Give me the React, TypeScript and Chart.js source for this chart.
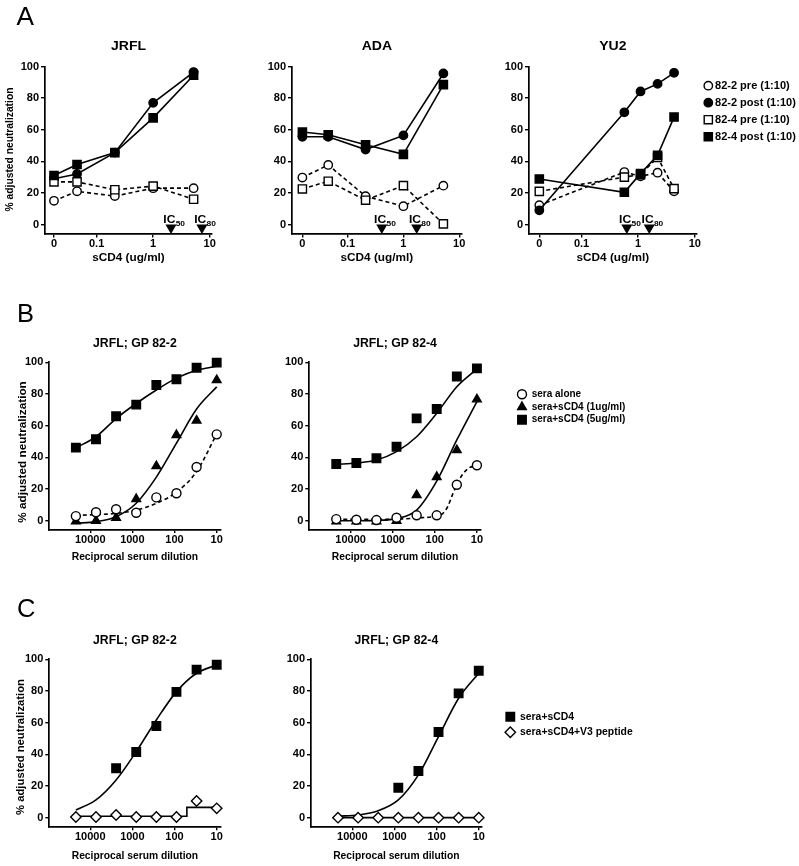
import React, { useEffect, useRef } from 'react';
import { Chart, registerables } from 'chart.js';

Chart.register(...registerables);

const FONT = '"Liberation Sans", Arial, Helvetica, sans-serif';
const W = 799;
const H = 866;

// ---------------- shared axis ticks / text ----------------
const Y_TICKS = [0, 20, 40, 60, 80, 100];
const Y_TICK_LABELS = ['0', '20', '40', '60', '80', '100'];
const A_X_TICK_VALUES = [0, 0.1, 1, 10];
const A_X_TICK_LABELS = ['0', '0.1', '1', '10'];
const DIL_X_TICKS = [10000, 1000, 100, 10];
const DIL_X_TICK_LABELS = ['10000', '1000', '100', '10'];
const Y_TITLE = '% adjusted neutralization';
const A_X_TITLE = 'sCD4 (ug/ml)';
const DIL_X_TITLE = 'Reciprocal serum dilution';

// ---------------- Panel A ----------------
const A_SERIES = ['82-2 pre (1:10)', '82-2 post (1:10)', '82-4 pre (1:10)', '82-4 post (1:10)'];
const SCD4_DOSES = [0, 0.045, 0.21, 1, 5.2];
const YU2_DOSES = [0, 0.57, 1.1, 2.2, 4.3];

const JRFL_PRE_82_2 = [15, 21, 18, 23, 23];
const JRFL_POST_82_2 = [29, 32, 45.5, 77, 96.5];
const JRFL_PRE_82_4 = [27, 27, 22, 24.3, 16];
const JRFL_POST_82_4 = [31, 38, 45.5, 67.5, 94.5];
const JRFL_IC = [2.07, 7.3];

const ADA_PRE_82_2 = [29.7, 37.7, 17.9, 11.6, 24.6];
const ADA_POST_82_2 = [55.5, 55.5, 47.4, 56.4, 95.6];
const ADA_PRE_82_4 = [22.5, 27.4, 15.4, 24.6, 0.4];
const ADA_POST_82_4 = [58.5, 56.8, 50.5, 44.4, 88.5];
const ADA_IC = [0.41, 1.73];

const YU2_PRE_82_2 = [12.2, 33.2, 30.5, 32.8, 21];
const YU2_POST_82_2 = [9, 71, 84.2, 89, 96];
const YU2_PRE_82_4 = [21, 30, 31.6, 42.5, 22.7];
const YU2_POST_82_4 = [28.8, 20.4, 32.2, 43.8, 68];
const YU2_IC = [0.63, 1.57];

const IC_SUBS = ['50', '80'];

// ---------------- Panel B ----------------
const B_SERIES = ['sera alone', 'sera+sCD4 (1ug/ml)', 'sera+sCD4 (5ug/ml)'];
const DILUTIONS = [21870, 7290, 2430, 810, 270, 90, 30, 10];

const B_822_ALONE = [2.9, 5.3, 7.2, 5, 14.7, 17.3, 33.9, 54.5];
const B_822_CD4_1 = [-0.4, 0, 1.9, 13.7, 34.5, 54.1, 63.2, 88.8];
const B_822_CD4_5 = [46.1, 51.4, 65.9, 73.3, 85.7, 89.3, 96.6, 99.8];
const B_822_FIT_ALONE = [3.4, 3.8, 4.6, 6.7, 11, 18, 31, 54.7];
const B_822_FIT_CD4_1 = [-1.7, -0.6, 2.5, 11, 27.5, 49, 70.5, 84.5];
const B_822_FIT_CD4_5 = [46, 53, 64.5, 74, 82.5, 90, 95, 97.5];

const B_824_ALONE = [1, 0.6, 0.4, 1.9, 3.4, 3.4, 22.7, 35];
const B_824_CD4_1 = [-0.4, -0.4, -0.4, 0, 16.2, 27.6, 44.6, 76.6];
const B_824_CD4_5 = [35.8, 36.4, 39.4, 46.7, 64.6, 70.5, 91, 96.2];
const B_824_FIT_ALONE_X = [21870, 7290, 2430, 810, 270, 90, 65, 49, 38.6, 30, 21.5, 15, 10];
const B_824_FIT_ALONE = [0.8, 0.8, 0.8, 1, 1.7, 3, 4.5, 9, 16, 22.7, 29.5, 33.5, 34.7];
const B_824_FIT_CD4_1 = [0, 0, 0.2, 1.3, 6.7, 25, 51, 75.2];
const B_824_FIT_CD4_5 = [35.6, 36.4, 38.3, 43.6, 53, 67.8, 84.6, 95.8];

// ---------------- Panel C ----------------
const C_SERIES = ['sera+sCD4', 'sera+sCD4+V3 peptide'];
const C_822_CD4 = [null, null, 31.2, 41.5, 57.9, 79.4, 93.5, 96.6];
const C_822_V3 = [0.4, 0.4, 1.7, 0.4, 0.4, 0.4, 10.5, 5.9];
const C_822_FIT_CD4 = [4.8, 11.2, 23.8, 41.7, 61.7, 79.6, 91.2, 96.4];
const C_822_FIT_V3_X = [21870, 7290, 2430, 810, 270, 90, 53, 51, 30, 10];
const C_822_FIT_V3 = [0.9, 0.9, 0.9, 0.9, 0.9, 0.9, 0.9, 6.5, 6.5, 6.5];

const C_824_CD4 = [null, null, null, 18.9, 29.5, 54.1, 78.5, 92.8];
const C_824_V3 = [0, 0, 0, 0, 0, 0, 0, 0];
const C_824_FIT_CD4 = [1, 1.7, 4.4, 11.2, 27, 51.2, 75.4, 91.2];
const C_824_FIT_V3 = [0, 0, 0, 0, 0, 0, 0, 0];

// ---------------- styles ----------------
type Shape = 'circle' | 'rect' | 'triangle' | 'rectRot';
interface MStyle { shape: Shape; filled: boolean; dashed: boolean; r: number; rot?: number }

const A_OPEN_CIRCLE: MStyle = { shape: 'circle', filled: false, dashed: true, r: 4.2 };
const A_FILL_CIRCLE: MStyle = { shape: 'circle', filled: true, dashed: false, r: 4.2 };
const A_OPEN_SQUARE: MStyle = { shape: 'rect', filled: false, dashed: true, r: 5.8 };
const A_FILL_SQUARE: MStyle = { shape: 'rect', filled: true, dashed: false, r: 5.8 };
const OPEN_CIRCLE: MStyle = { shape: 'circle', filled: false, dashed: true, r: 4.5 };
const FILL_TRI: MStyle = { shape: 'triangle', filled: true, dashed: false, r: 5 };
const FILL_SQUARE: MStyle = { shape: 'rect', filled: true, dashed: false, r: 6 };
const OPEN_DIAMOND: MStyle = { shape: 'rectRot', filled: false, dashed: false, r: 5.2 };
const ARROW: MStyle = { shape: 'triangle', filled: true, dashed: false, r: 5, rot: 180 };

const LINE_W = 1.6;
const TICK_FONT = { family: FONT, size: 11, weight: 'bold' as const };

// ---------------- helpers ----------------
function toXY(xs: number[], ys: (number | null)[], zero = 0) {
  const out: { x: number; y: number }[] = [];
  for (let i = 0; i < xs.length; i++) {
    const y = ys[i];
    if (y === null || y === undefined) continue;
    out.push({ x: xs[i] === 0 ? zero : xs[i], y });
  }
  return out;
}

function markerDS(label: string, data: any[], st: MStyle, showLine: boolean, legendRank: number | null, extra: any = {}) {
  return {
    label,
    data,
    showLine,
    borderColor: '#000',
    borderWidth: LINE_W,
    borderDash: st.dashed ? [4, 3] : [],
    backgroundColor: st.filled ? '#000' : '#fff',
    pointStyle: st.shape,
    pointRadius: st.r,
    pointHoverRadius: st.r,
    pointBackgroundColor: st.filled ? '#000' : '#fff',
    pointBorderColor: '#000',
    pointBorderWidth: 1.4,
    pointRotation: st.rot || 0,
    tension: 0,
    clip: false,
    legendRank,
    ...extra,
  };
}

function curveDS(data: any[], dashed: boolean, smooth = true) {
  return {
    label: '',
    data,
    showLine: true,
    pointRadius: 0,
    pointHoverRadius: 0,
    borderColor: '#000',
    borderWidth: LINE_W,
    borderDash: dashed ? [4, 3] : [],
    cubicInterpolationMode: smooth ? 'monotone' : 'default',
    tension: 0,
    clip: false,
    legendRank: null,
  };
}

function noPad(s: any) {
  s.paddingLeft = 0;
  s.paddingRight = 0;
  s.paddingTop = 0;
  s.paddingBottom = 0;
}

const Y_AXIS_W = 40;
const X_AXIS_H = 22;

function yAxis(min: number) {
  return {
    type: 'linear',
    position: 'left',
    min,
    max: 100,
    afterBuildTicks: (s: any) => {
      s.ticks = Y_TICKS.map((v) => ({ value: v }));
    },
    afterFit: (s: any) => {
      s.width = Y_AXIS_W;
      noPad(s);
    },
    ticks: {
      color: '#000',
      font: TICK_FONT,
      padding: 2,
      callback: (v: number) => {
        const i = Y_TICKS.indexOf(v);
        return i >= 0 ? Y_TICK_LABELS[i] : '';
      },
    },
    grid: { drawOnChartArea: false, drawTicks: true, tickLength: 4, color: '#000', lineWidth: 1.4 },
    border: { display: true, color: '#000', width: 1.7 },
  };
}

function xLogAxis(min: number, max: number, reverse: boolean, tickVals: number[], labels: string[]) {
  return {
    type: 'logarithmic',
    position: 'bottom',
    min,
    max,
    reverse,
    afterBuildTicks: (s: any) => {
      s.ticks = tickVals.map((v) => ({ value: v }));
    },
    afterFit: (s: any) => {
      s.height = X_AXIS_H;
      noPad(s);
    },
    ticks: {
      autoSkip: false,
      maxRotation: 0,
      minRotation: 0,
      padding: 0,
      color: '#000',
      font: TICK_FONT,
      callback: (v: number) => {
        const i = tickVals.findIndex((t) => Math.abs(Math.log10(t) - Math.log10(v)) < 1e-6);
        return i >= 0 ? labels[i] : '';
      },
    },
    grid: { drawOnChartArea: false, drawTicks: true, tickLength: 3.5, color: '#000', lineWidth: 1.4 },
    border: { display: true, color: '#000', width: 1.7 },
  };
}

function drawText(
  ctx: CanvasRenderingContext2D,
  text: string,
  x: number,
  y: number,
  size: number,
  sx: number,
  align: CanvasTextAlign,
  baseline: CanvasTextBaseline,
  weight = 'bold',
  rotate = 0
) {
  ctx.save();
  ctx.font = `${weight} ${size}px ${FONT}`;
  ctx.fillStyle = '#000';
  ctx.textAlign = align;
  ctx.textBaseline = baseline;
  ctx.translate(x, y);
  if (rotate) ctx.rotate(rotate);
  ctx.scale(sx, 1);
  ctx.fillText(text, 0, 0);
  ctx.restore();
}

function drawMarker(ctx: CanvasRenderingContext2D, shape: string, x: number, y: number, r: number, fill: string, rotDeg: number) {
  ctx.save();
  ctx.beginPath();
  ctx.lineWidth = 1.4;
  ctx.strokeStyle = '#000';
  ctx.fillStyle = fill;
  if (shape === 'circle') {
    ctx.arc(x, y, r, 0, Math.PI * 2);
  } else if (shape === 'rect') {
    const s = r * Math.SQRT1_2;
    ctx.rect(x - s, y - s, 2 * s, 2 * s);
  } else if (shape === 'triangle') {
    let rad = (rotDeg * Math.PI) / 180;
    ctx.moveTo(x + Math.sin(rad) * r, y - Math.cos(rad) * r);
    rad += (2 * Math.PI) / 3;
    ctx.lineTo(x + Math.sin(rad) * r, y - Math.cos(rad) * r);
    rad += (2 * Math.PI) / 3;
    ctx.lineTo(x + Math.sin(rad) * r, y - Math.cos(rad) * r);
  } else {
    ctx.moveTo(x - r, y);
    ctx.lineTo(x, y - r);
    ctx.lineTo(x + r, y);
    ctx.lineTo(x, y + r);
  }
  ctx.closePath();
  ctx.fill();
  ctx.stroke();
  ctx.restore();
}

const IC_SIZE = 11.5;
const IC_SUB_SIZE = 8;
const IC_SX = 1.05;

const decoPlugin = {
  id: 'deco',
  afterDatasetsDraw(chart: any) {
    const ctx: CanvasRenderingContext2D = chart.ctx;
    chart.data.datasets.forEach((ds: any, di: number) => {
      if (!ds.icLabels) return;
      const meta = chart.getDatasetMeta(di);
      meta.data.forEach((el: any, j: number) => {
        const sub = ds.icLabels[j];
        ctx.save();
        ctx.font = `bold ${IC_SIZE}px ${FONT}`;
        const wIC = ctx.measureText('IC').width * IC_SX;
        ctx.font = `bold ${IC_SUB_SIZE}px ${FONT}`;
        const wSub = ctx.measureText(sub).width * IC_SX;
        ctx.restore();
        const start = el.x + 3 - (wIC + wSub) / 2;
        drawText(ctx, 'IC', start, el.y - 4.5, IC_SIZE, IC_SX, 'left', 'alphabetic');
        drawText(ctx, sub, start + wIC + 0.3, el.y - 2, IC_SUB_SIZE, IC_SX, 'left', 'alphabetic');
      });
    });
  },
  afterDraw(chart: any) {
    const ctx: CanvasRenderingContext2D = chart.ctx;
    const o = chart.config.options.plugins.deco || {};
    const ca = chart.chartArea;
    const cx = (ca.left + ca.right) / 2;
    if (o.title) drawText(ctx, o.title.text, cx, o.title.y, o.title.size, o.title.sx, 'center', 'middle');
    if (o.xTitle) drawText(ctx, o.xTitle.text, cx, o.xTitle.y, o.xTitle.size, o.xTitle.sx, 'center', 'middle');
    if (o.yTitle)
      drawText(ctx, o.yTitle.text, o.yTitle.x, o.yTitle.y, o.yTitle.size, o.yTitle.sx, 'center', 'middle', 'bold', -Math.PI / 2);
    if (o.letter) drawText(ctx, o.letter.text, o.letter.x, o.letter.y, o.letter.size, o.letter.sx, 'left', 'alphabetic', 'normal');
    if (o.legend) {
      const lg = o.legend;
      const items = chart.data.datasets
        .filter((d: any) => d.legendRank !== null && d.legendRank !== undefined)
        .sort((a: any, b: any) => a.legendRank - b.legendRank);
      items.forEach((d: any, i: number) => {
        const y = lg.y0 + i * lg.dy;
        drawMarker(ctx, d.pointStyle, lg.markerX, y, d.pointRadius, d.pointBackgroundColor, d.pointRotation || 0);
        drawText(ctx, d.label, lg.textX, y, lg.size, lg.sx, 'left', 'middle');
      });
    }
  },
};

interface Area { left: number; top: number; right: number; bottom: number }

function baseConfig(area: Area, datasets: any[], scales: any, deco: any) {
  return {
    type: 'scatter',
    data: { datasets },
    options: {
      responsive: false,
      animation: false,
      devicePixelRatio: 1,
      events: [],
      layout: {
        padding: {
          left: area.left - Y_AXIS_W,
          right: W - area.right,
          top: area.top,
          bottom: H - area.bottom - X_AXIS_H,
        },
      },
      scales,
      plugins: { legend: { display: false }, tooltip: { enabled: false }, title: { display: false }, deco },
    },
    plugins: [decoPlugin],
  };
}

// ---------------- panel builders ----------------
interface APanel {
  title: string;
  area: Area;
  xmin: number;
  xmax: number;
  zero: number;
  doses: number[];
  pre2: number[];
  post2: number[];
  pre4: number[];
  post4: number[];
  ic: number[];
  yTitle?: boolean;
  letter?: boolean;
  legend?: boolean;
}

function makeA(p: APanel) {
  const lr = (k: number) => (p.legend ? k : null);
  const datasets = [
    markerDS('IC', toXY(p.ic, p.ic.map(() => -2)), ARROW, false, null, { icLabels: IC_SUBS }),
    markerDS(A_SERIES[3], toXY(p.doses, p.post4, p.zero), A_FILL_SQUARE, true, lr(3)),
    markerDS(A_SERIES[2], toXY(p.doses, p.pre4, p.zero), A_OPEN_SQUARE, true, lr(2)),
    markerDS(A_SERIES[1], toXY(p.doses, p.post2, p.zero), A_FILL_CIRCLE, true, lr(1)),
    markerDS(A_SERIES[0], toXY(p.doses, p.pre2, p.zero), A_OPEN_CIRCLE, true, lr(0)),
  ];
  const tickVals = A_X_TICK_VALUES.map((v) => (v === 0 ? p.zero : v));
  const scales = { x: xLogAxis(p.xmin, p.xmax, false, tickVals, A_X_TICK_LABELS), y: yAxis(-6) };
  const deco: any = {
    title: { text: p.title, y: 46.5, size: 13, sx: 1.08 },
    xTitle: { text: A_X_TITLE, y: 257.5, size: 11, sx: 1.07 },
  };
  if (p.yTitle) deco.yTitle = { text: Y_TITLE, x: 10, y: 149.5, size: 10.6, sx: 0.97 };
  if (p.letter) deco.letter = { text: 'A', x: 16.5, y: 25, size: 25.5, sx: 1.03 };
  if (p.legend) deco.legend = { markerX: 708.3, textX: 715, y0: 85.7, dy: 17, size: 10.6, sx: 1.04 };
  return baseConfig(p.area, datasets, scales, deco);
}

function makeB(
  title: string,
  area: Area,
  xmin: number,
  xmax: number,
  alone: number[],
  cd41: number[],
  cd45: number[],
  fitAloneX: number[],
  fitAlone: number[],
  fit1: number[],
  fit5: number[],
  first: boolean
) {
  const datasets = [
    markerDS(B_SERIES[0], toXY(DILUTIONS, alone), OPEN_CIRCLE, false, first ? null : 0),
    markerDS(B_SERIES[1], toXY(DILUTIONS, cd41), FILL_TRI, false, first ? null : 1),
    markerDS(B_SERIES[2], toXY(DILUTIONS, cd45), FILL_SQUARE, false, first ? null : 2),
    curveDS(toXY(fitAloneX, fitAlone), true),
    curveDS(toXY(DILUTIONS, fit1), false),
    curveDS(toXY(DILUTIONS, fit5), false),
  ];
  const scales = { x: xLogAxis(xmin, xmax, true, DIL_X_TICKS, DIL_X_TICK_LABELS), y: yAxis(-5.5) };
  const deco: any = {
    title: { text: title, y: 343.3, size: 12.5, sx: 0.98 },
    xTitle: { text: DIL_X_TITLE, y: 556.7, size: 10.5, sx: 0.98 },
  };
  if (first) {
    deco.yTitle = { text: Y_TITLE, x: 23, y: 452, size: 11.5, sx: 1.02 };
    deco.letter = { text: 'B', x: 17, y: 321.7, size: 25.5, sx: 1.0 };
  } else {
    deco.legend = { markerX: 522, textX: 531.7, y0: 394.3, dy: 12.7, size: 10, sx: 1.0 };
  }
  return baseConfig(area, datasets, scales, deco);
}

function makeC(
  title: string,
  area: Area,
  xmin: number,
  xmax: number,
  cd4: (number | null)[],
  v3: number[],
  fitCd4: number[],
  fitV3X: number[],
  fitV3: number[],
  first: boolean
) {
  const datasets = [
    markerDS(C_SERIES[1], toXY(DILUTIONS, v3), OPEN_DIAMOND, false, first ? null : 1),
    markerDS(C_SERIES[0], toXY(DILUTIONS, cd4), FILL_SQUARE, false, first ? null : 0),
    curveDS(toXY(fitV3X, fitV3), false, false),
    curveDS(toXY(DILUTIONS, fitCd4), false),
  ];
  const scales = { x: xLogAxis(xmin, xmax, true, DIL_X_TICKS, DIL_X_TICK_LABELS), y: yAxis(-5.7) };
  const deco: any = {
    title: { text: title, y: 640.7, size: 12.5, sx: 0.98 },
    xTitle: { text: DIL_X_TITLE, y: 855.7, size: 10.5, sx: 0.98 },
  };
  if (first) {
    deco.yTitle = { text: Y_TITLE, x: 21, y: 747, size: 11.5, sx: 0.98 };
    deco.letter = { text: 'C', x: 17, y: 616.7, size: 25.5, sx: 1.0 };
  } else {
    deco.legend = { markerX: 510.3, textX: 520, y0: 716.7, dy: 15.6, size: 10.5, sx: 0.99 };
  }
  return baseConfig(area, datasets, scales, deco);
}

function buildConfigs() {
  return [
    makeA({
      title: 'JRFL',
      area: { left: 45, top: 66.5, right: 212, bottom: 234 },
      xmin: 0.0122,
      xmax: 11.0,
      zero: 0.0176,
      doses: SCD4_DOSES,
      pre2: JRFL_PRE_82_2,
      post2: JRFL_POST_82_2,
      pre4: JRFL_PRE_82_4,
      post4: JRFL_POST_82_4,
      ic: JRFL_IC,
      yTitle: true,
      letter: true,
    }),
    makeA({
      title: 'ADA',
      area: { left: 292, top: 66.5, right: 461.7, bottom: 234 },
      xmin: 0.0101,
      xmax: 11.07,
      zero: 0.0155,
      doses: SCD4_DOSES,
      pre2: ADA_PRE_82_2,
      post2: ADA_POST_82_2,
      pre4: ADA_PRE_82_4,
      post4: ADA_POST_82_4,
      ic: ADA_IC,
    }),
    makeA({
      title: 'YU2',
      area: { left: 529, top: 66.5, right: 696.7, bottom: 234 },
      xmin: 0.0118,
      xmax: 10.8,
      zero: 0.01795,
      doses: YU2_DOSES,
      pre2: YU2_PRE_82_2,
      post2: YU2_POST_82_2,
      pre4: YU2_PRE_82_4,
      post4: YU2_POST_82_4,
      ic: YU2_IC,
      legend: true,
    }),
    makeB(
      'JRFL; GP 82-2',
      { left: 49.3, top: 362.3, right: 220.5, bottom: 529.4 },
      8.13,
      93325,
      B_822_ALONE,
      B_822_CD4_1,
      B_822_CD4_5,
      DILUTIONS,
      B_822_FIT_ALONE,
      B_822_FIT_CD4_1,
      B_822_FIT_CD4_5,
      true
    ),
    makeB(
      'JRFL; GP 82-4',
      { left: 309.3, top: 362.3, right: 480.7, bottom: 529.4 },
      8.13,
      95500,
      B_824_ALONE,
      B_824_CD4_1,
      B_824_CD4_5,
      B_824_FIT_ALONE_X,
      B_824_FIT_ALONE,
      B_824_FIT_CD4_1,
      B_824_FIT_CD4_5,
      false
    ),
    makeC(
      'JRFL; GP 82-2',
      { left: 49.3, top: 659.3, right: 220.5, bottom: 826.7 },
      8.13,
      93325,
      C_822_CD4,
      C_822_V3,
      C_822_FIT_CD4,
      C_822_FIT_V3_X,
      C_822_FIT_V3,
      true
    ),
    makeC(
      'JRFL; GP 82-4',
      { left: 311, top: 659.3, right: 481.7, bottom: 826.7 },
      8.51,
      95500,
      C_824_CD4,
      C_824_V3,
      C_824_FIT_CD4,
      DILUTIONS,
      C_824_FIT_V3,
      false
    ),
  ];
}

function ChartLayer({ config }: { config: any }) {
  const ref = useRef<HTMLCanvasElement>(null);
  useEffect(() => {
    const chart = new Chart(ref.current as HTMLCanvasElement, config);
    return () => chart.destroy();
  }, [config]);
  return (
    <canvas
      ref={ref}
      width={W}
      height={H}
      style={{ position: 'absolute', left: 0, top: 0, width: W, height: H, display: 'block' }}
    />
  );
}

const CONFIGS = buildConfigs();

export default function App() {
  return (
    <div style={{ position: 'absolute', left: 0, top: 0, width: W, height: H, background: '#fff', overflow: 'hidden' }}>
      {CONFIGS.map((c, i) => (
        <ChartLayer key={i} config={c} />
      ))}
    </div>
  );
}
